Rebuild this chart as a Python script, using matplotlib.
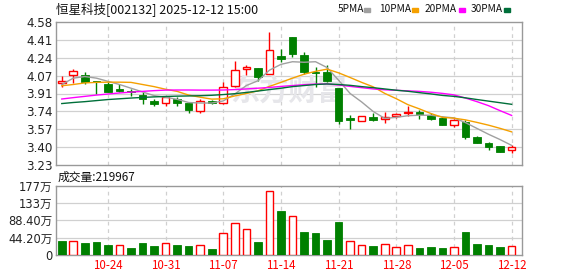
import matplotlib.pyplot as plt
from matplotlib.patches import Rectangle
import numpy as np

plt.rcParams['font.family'] = ['DejaVu Sans', 'Noto Sans CJK SC']

# 交易日 2025-10-20 ~ 2025-12-12
dates = ['10-20', '10-21', '10-22', '10-23', '10-24', '10-27', '10-28', '10-29', '10-30', '10-31',
         '11-03', '11-04', '11-05', '11-06', '11-07', '11-10', '11-11', '11-12', '11-13', '11-14',
         '11-17', '11-18', '11-19', '11-20', '11-21', '11-24', '11-25', '11-26', '11-27', '11-28',
         '12-01', '12-02', '12-03', '12-04', '12-05', '12-08', '12-09', '12-10', '12-11', '12-12']
label_dates = ['10-24', '10-31', '11-07', '11-14', '11-21', '11-28', '12-05', '12-12']

opens = [4.007, 4.077, 4.080, 4.020, 3.995, 3.945, 3.925, 3.894, 3.837, 3.813,
         3.853, 3.813, 3.743, 3.837, 3.820, 3.976, 4.134, 4.143, 4.086, 4.259,
         4.441, 4.268, 4.105, 4.105, 3.960, 3.677, 3.648, 3.681, 3.667, 3.695,
         3.720, 3.730, 3.702, 3.671, 3.610, 3.639, 3.494, 3.435, 3.409, 3.372]
closes = [4.026, 4.115, 4.016, 4.015, 3.922, 3.929, 3.915, 3.850, 3.803, 3.869,
          3.813, 3.749, 3.834, 3.813, 3.964, 4.127, 4.152, 4.064, 4.316, 4.234,
          4.275, 4.111, 4.100, 4.026, 3.645, 3.655, 3.690, 3.658, 3.686, 3.711,
          3.724, 3.711, 3.667, 3.611, 3.652, 3.497, 3.440, 3.403, 3.350, 3.397]
highs = [4.073, 4.136, 4.105, 4.020, 4.016, 3.995, 3.950, 3.916, 3.853, 3.869,
         3.869, 3.828, 3.850, 3.840, 4.013, 4.215, 4.174, 4.143, 4.483, 4.325,
         4.441, 4.300, 4.152, 4.177, 3.960, 3.699, 3.690, 3.724, 3.730, 3.724,
         3.787, 3.749, 3.718, 3.693, 3.667, 3.655, 3.504, 3.450, 3.409, 3.419]
lows = [3.963, 4.007, 3.992, 3.905, 3.916, 3.922, 3.885, 3.809, 3.790, 3.790,
        3.790, 3.720, 3.720, 3.810, 3.806, 3.964, 4.080, 4.026, 4.086, 4.205,
        4.252, 4.089, 3.969, 4.016, 3.617, 3.570, 3.645, 3.645, 3.630, 3.671,
        3.695, 3.667, 3.655, 3.607, 3.592, 3.475, 3.435, 3.372, 3.350, 3.346]

ma5 = [3.99, 4.05, 4.065, 4.05, 4.02, 3.99, 3.955, 3.92, 3.885, 3.87,
       3.85, 3.82, 3.815, 3.815, 3.835, 3.90, 3.98, 4.025, 4.125, 4.18,
       4.205, 4.20, 4.205, 4.15, 4.03, 3.905, 3.825, 3.735, 3.67, 3.68,
       3.695, 3.70, 3.70, 3.685, 3.675, 3.63, 3.575, 3.52, 3.47, 3.415]
ma10 = [3.978, 3.99, 4.005, 4.01, 4.012, 4.012, 4.01, 3.99, 3.97, 3.945,
        3.925, 3.89, 3.87, 3.852, 3.855, 3.882, 3.905, 3.93, 3.972, 4.01,
        4.05, 4.087, 4.114, 4.135, 4.10, 4.056, 4.01, 3.968, 3.906, 3.856,
        3.80, 3.76, 3.716, 3.68, 3.672, 3.656, 3.632, 3.606, 3.576, 3.543]
ma20 = [3.853, 3.866, 3.878, 3.89, 3.90, 3.91, 3.918, 3.925, 3.932, 3.937,
        3.938, 3.938, 3.937, 3.937, 3.938, 3.942, 3.948, 3.955, 3.962, 3.972,
        3.98, 3.988, 3.994, 3.995, 3.985, 3.972, 3.96, 3.948, 3.94, 3.935,
        3.93, 3.925, 3.917, 3.906, 3.892, 3.862, 3.828, 3.79, 3.743, 3.698]
ma30 = [3.81, 3.82, 3.828, 3.838, 3.848, 3.855, 3.862, 3.868, 3.873, 3.877,
        3.88, 3.882, 3.884, 3.888, 3.895, 3.903, 3.915, 3.928, 3.942, 3.955,
        3.97, 3.98, 3.99, 3.995, 3.99, 3.982, 3.97, 3.96, 3.948, 3.936,
        3.926, 3.913, 3.901, 3.887, 3.878, 3.864, 3.848, 3.833, 3.818, 3.803]

# 成交量 (万手)
volumes = [36.5, 35.7, 31.5, 34.0, 25.5, 24.7, 17.9, 31.5, 23.0, 30.6,
           25.5, 23.0, 24.7, 15.3, 56.0, 81.6, 66.3, 34.0, 162.5, 113.0,
           99.5, 59.5, 57.0, 38.3, 85.0, 35.7, 24.7, 23.0, 28.0, 20.4,
           24.7, 18.7, 21.2, 18.7, 20.4, 59.5, 28.9, 25.5, 21.2, 22.0]

price_ticks = ['3.23', '3.40', '3.57', '3.74', '3.91', '4.07', '4.24', '4.41', '4.58']
vol_ticks = ['0', '44.20万', '88.40万', '133万', '177万']

RED = '#ff0000'
GREEN = '#008000'
GRID = '#d0d0d0'
FRAME = '#999999'

W, H = 578, 276
fig = plt.figure(figsize=(W / 100, H / 100), dpi=100)
ax = fig.add_axes([56 / W, 1 - 165 / H, 466 / W, 143 / H])
axv = fig.add_axes([56 / W, 1 - 255 / H, 466 / W, 69.3 / H])

x = np.arange(len(dates))
o = np.array(opens)
c = np.array(closes)
up = c >= o
label_idx = [dates.index(d) for d in label_dates]

for a in (ax, axv):
    for s in a.spines.values():
        s.set_color(FRAME)
        s.set_linewidth(1.0)
    a.set_xlim(-0.5, 39.9)
    a.tick_params(length=0)
    for i in label_idx:
        a.axvline(i, color=GRID, lw=0.9, ls=(0, (3, 3)), zorder=0)

# 价格
ymin, ymax = 3.23, 4.58
yt = np.linspace(ymin, ymax, len(price_ticks))
ax.set_ylim(ymin, ymax)
ax.set_yticks(yt)
ax.set_yticklabels(price_ticks, fontsize=8.6, color='#222222')
ax.tick_params(axis='y', pad=2.5)
ax.set_xticks([])
for v in yt[1:-1]:
    ax.axhline(v, color=GRID, lw=0.9, zorder=0)

ax.text(0.5, 0.52, '东方财富', transform=ax.transAxes, fontsize=21, fontweight='bold',
        color='#e6e6ea', ha='center', va='center', style='italic',
        family=['Noto Sans CJK SC'], zorder=0)

bw = 0.66
ax.vlines(x[up], np.array(lows)[up], np.array(highs)[up], color=RED, lw=1.0, zorder=2)
ax.vlines(x[~up], np.array(lows)[~up], np.array(highs)[~up], color=GREEN, lw=1.0, zorder=2)
body_lo = np.minimum(o, c)
body_h = np.maximum(np.abs(c - o), 0.006)
ax.bar(x[up], body_h[up], bw, bottom=body_lo[up], facecolor='white', edgecolor=RED,
       linewidth=1.0, zorder=3)
ax.bar(x[~up], body_h[~up], bw, bottom=body_lo[~up], facecolor=GREEN, edgecolor=GREEN,
       linewidth=0.6, zorder=3)

ma_colors = ['#a0a0a0', '#f5a000', '#ff00ff', '#006f3a']
for ma, col in zip([ma5, ma10, ma20, ma30], ma_colors):
    ax.plot(x, ma, color=col, lw=1.0, zorder=4)

# 成交量
vmax = 176.8
axv.set_ylim(0, vmax)
vt = np.linspace(0, vmax, len(vol_ticks))
axv.set_yticks(vt)
axv.set_yticklabels(vol_ticks, fontsize=8.3, color='#222222')
axv.tick_params(axis='y', pad=2.5)
for v in vt[1:-1]:
    axv.axhline(v, color=GRID, lw=0.9, zorder=0)
prev = np.concatenate([[c[0] + 1], c[:-1]])
vup = c >= prev
vol = np.array(volumes)
axv.bar(x[vup], vol[vup], bw, facecolor='white', edgecolor=RED, linewidth=1.0, zorder=3)
axv.bar(x[~vup], vol[~vup], bw, facecolor=GREEN, edgecolor=GREEN, linewidth=0.6, zorder=3)
axv.set_xticks(label_idx)
axv.set_xticklabels(label_dates, fontsize=8.3, color=RED, family=['Noto Sans CJK SC'])
axv.tick_params(axis='x', pad=3)

# 标题与图例
fig.text(56 / W, 1 - 9.5 / H, '恒星科技[002132] 2025-12-12 15:00', fontsize=9,
         family=['Noto Sans CJK SC'], va='center', ha='left', color='#111111')
fig.text(58 / W, 1 - 177 / H, '成交量:219967', fontsize=8.5,
         family=['Noto Sans CJK SC'], va='center', ha='left', color='#111111')
legend_names = ['5PMA', '10PMA', '20PMA', '30PMA']
name_x = [338, 379, 425, 471]
sw_x = [364, 412, 459, 504]
for name, nx, sx, col in zip(legend_names, name_x, sw_x, ma_colors):
    fig.text(nx / W, 1 - 9.5 / H, name, fontsize=7.3, family=['Noto Sans CJK SC'],
             va='center', ha='left', color='#111111')
    fig.patches.append(Rectangle((sx / W, 1 - 11.5 / H), 6 / W, 4 / H,
                                 transform=fig.transFigure, color=col))

fig.savefig('out.png', dpi=100)
